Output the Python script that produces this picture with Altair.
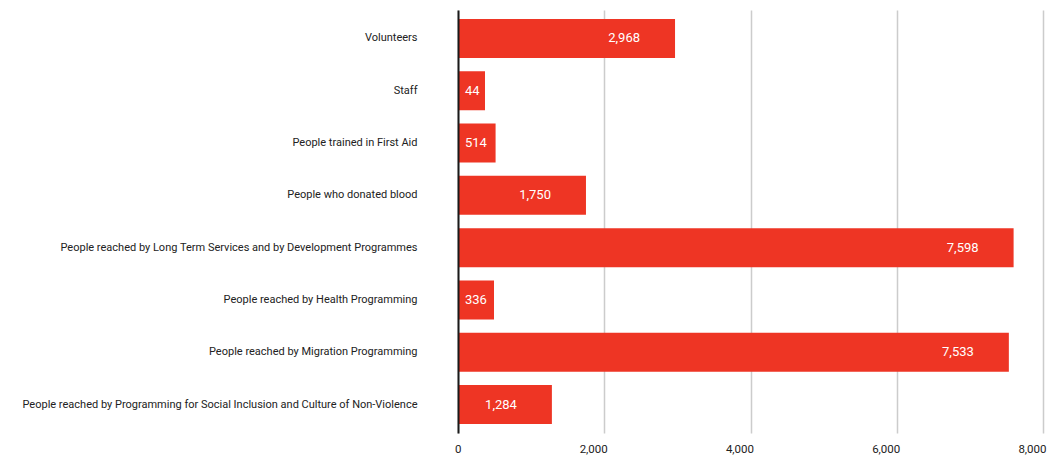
import altair as alt
import pandas as pd

categories = [
    "Volunteers",
    "Staff",
    "People trained in First Aid",
    "People who donated blood",
    "People reached by Long Term Services and by Development Programmes",
    "People reached by Health Programming",
    "People reached by Migration Programming",
    "People reached by Programming for Social Inclusion and Culture of Non-Violence",
]
values = [2968, 44, 514, 1750, 7598, 336, 7533, 1284]
tick_values = [0, 2000, 4000, 6000, 8000]

W = 585
H = 423
XMAX = 8000
units_per_px = XMAX / W

df = pd.DataFrame({"category": categories, "value": values})
df["label"] = [f"{v:,}" for v in values]
# small bars are widened so that their label fits inside
df["bar_end"] = [max(v, (9 * len(str(v)) + 9) * units_per_px) for v in values]
df["inside_right"] = df["value"] >= 1000

FONT = "Roboto"
RED = "#EE3524"

y = alt.Y(
    "category:N",
    sort=categories,
    title=None,
    scale=alt.Scale(paddingInner=0.254, paddingOuter=0.172),
    axis=alt.Axis(
        domainColor="#1a1a1a",
        domainWidth=2,
        ticks=False,
        labelPadding=41,
        labelFont=FONT,
        labelFontSize=11,
        labelColor="#222222",
        labelLimit=445,
        zindex=1,
    ),
)
x = alt.X(
    "bar_end:Q",
    scale=alt.Scale(domain=[0, XMAX], nice=False),
    title=None,
    axis=alt.Axis(
        values=tick_values,
        format=",.0f",
        domain=False,
        ticks=False,
        gridColor="#cccccc",
        gridWidth=1.5,
        labelFont=FONT,
        labelFontSize=11.5,
        labelAlign="right",
        labelOffset=3,
        labelPadding=10,
        labelColor="#222222",
    ),
)

base = alt.Chart(df)

bars = base.mark_bar(color=RED).encode(x=x, y=y)

text_right = (
    base.transform_filter("datum.inside_right")
    .mark_text(align="right", baseline="middle", dx=-35, color="white", font=FONT, fontSize=13)
    .encode(x=x, y=y, text="label:N")
)

text_left = (
    base.transform_filter("!datum.inside_right")
    .mark_text(align="left", baseline="middle", dx=7, color="white", font=FONT, fontSize=13)
    .encode(x=alt.value(0), y=y, text="label:N")
)

chart = (
    alt.layer(bars, text_right, text_left)
    .properties(
        width=W,
        height=H,
        autosize=alt.AutoSizeParams(type="none"),
        padding={"left": 450, "top": 2, "right": 9, "bottom": 30},
        background="white",
    )
    .configure_view(strokeWidth=0, stroke="transparent")
)

chart.save("out.html", embed_options={"renderer": "svg", "actions": False})
